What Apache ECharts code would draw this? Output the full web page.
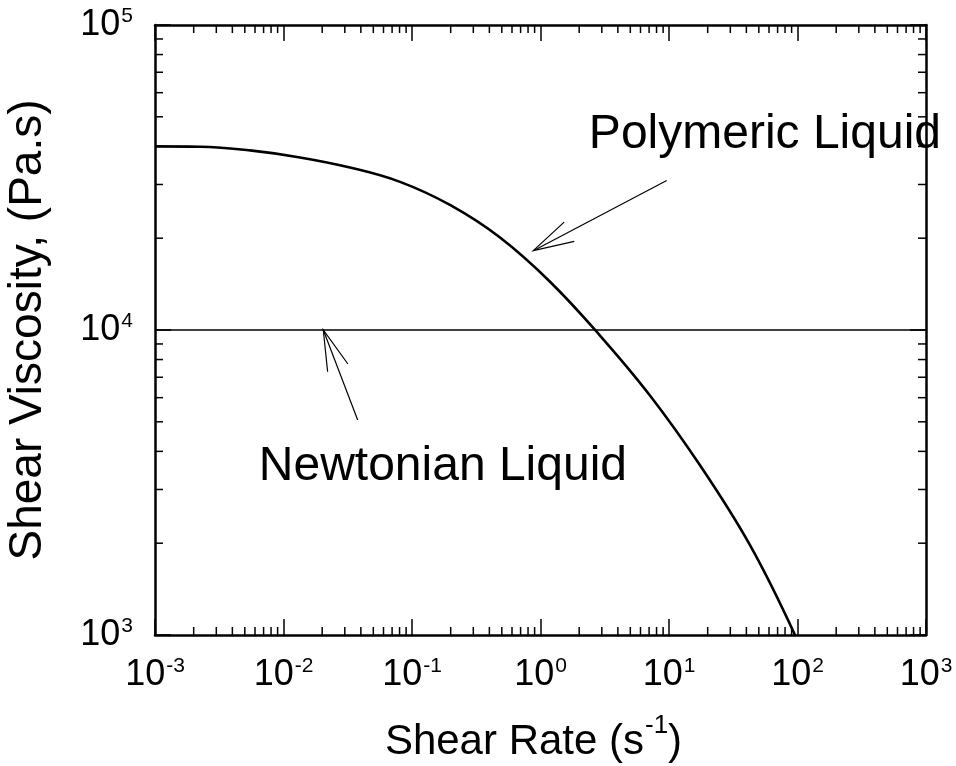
<!DOCTYPE html>
<html>
<head>
<meta charset="utf-8">
<script src="https://cdn.jsdelivr.net/npm/echarts@6/dist/echarts.min.js"></script>
<style>
html, body { margin: 0; padding: 0; background: #fff; }
#chart { width: 956px; height: 766px; }
</style>
</head>
<body>
<div id="chart"></div>
<script>
// polymeric liquid curve
var shearRate = [0.001, 0.00224, 0.00549, 0.01344, 0.0329, 0.0807, 0.1975, 0.484, 1.186, 2.904, 7.11, 17.43, 42.7, 95.6];
var viscosity = [40000, 39900, 38800, 36800, 34100, 30600, 25700, 20100, 14400, 9590, 6100, 3600, 1970, 1000];

// newtonian liquid: constant viscosity
var newtonRate = [0.001, 1000];
var newtonVisc = [10000, 10000];

// annotations (data coords)
var noteText = ['Polymeric Liquid', 'Newtonian Liquid'];
var notePos = [[55.8, 43800], [0.174, 3550]];
var arrowTail = [[9.6, 30900], [0.0378, 5070]];
var arrowTip = [[0.879, 18200], [0.0204, 10000]];

// log axis decades
var xDecades = [0.001, 0.01, 0.1, 1, 10, 100];
var yDecades = [1000, 10000];
var minorFactors = [2, 3, 4, 5, 6, 7, 8, 9];

var FONT = '"Liberation Sans", Arial, Helvetica, sans-serif';

var xMinor = [], yMinor = [];
xDecades.forEach(function (d) { minorFactors.forEach(function (f) { xMinor.push([d * f, 1000]); }); });
yDecades.forEach(function (d) { minorFactors.forEach(function (f) { yMinor.push([0.001, d * f]); }); });

function pow10Label(v) {
  var e = Math.round(Math.log(v) / Math.LN10);
  return '{b|10}{sup|' + e + '}';
}

var labelRich = {
  b: { fontSize: 36, fontFamily: FONT, color: '#000', lineHeight: 38 },
  sup: { fontSize: 21, fontFamily: FONT, color: '#000', verticalAlign: 'top', lineHeight: 22, padding: [0, 0, 0, 1] }
};

var axisBase = {
  type: 'log',
  logBase: 10,
  interval: 1,
  axisLine: { show: true, onZero: false, lineStyle: { color: '#000', width: 2.5 } },
  axisTick: { show: true, inside: true, length: 16, lineStyle: { color: '#000', width: 1.5 } },
  splitLine: { show: false },
  minorTick: { show: false },
  minorSplitLine: { show: false }
};

function axis(extra) {
  var o = JSON.parse(JSON.stringify(axisBase));
  for (var k in extra) o[k] = extra[k];
  return o;
}

var chart = echarts.init(document.getElementById('chart'));

chart.setOption({
  animation: false,
  backgroundColor: '#fff',
  grid: { left: 155, right: 30, top: 25, bottom: 131, outerBoundsMode: 'none', containLabel: false },
  xAxis: [
    axis({
      position: 'bottom', min: 0.001, max: 1000,
      name: '{t|Shear Rate (s}{sup|-1}{t|)}',
      nameLocation: 'middle', nameGap: 78,
      nameTextStyle: {
        fontSize: 42, fontFamily: FONT, color: '#000', padding: [0, 14, 0, 0],
        rich: {
          t: { fontSize: 42, fontFamily: FONT, color: '#000', lineHeight: 58 },
          sup: { fontSize: 26, fontFamily: FONT, color: '#000', verticalAlign: 'top', lineHeight: 26, padding: [0, 0, 0, 1] }
        }
      },
      axisLabel: {
        show: true, margin: 21, fontSize: 36, fontFamily: FONT, color: '#000',
        formatter: pow10Label, rich: labelRich
      }
    }),
    axis({ position: 'top', min: 0.001, max: 1000, axisLabel: { show: false } })
  ],
  yAxis: [
    axis({
      position: 'left', min: 1000, max: 100000,
      name: 'Shear Viscosity, (Pa.s)',
      nameLocation: 'middle', nameGap: 104,
      nameTextStyle: { fontSize: 46, fontFamily: FONT, color: '#000' },
      axisLabel: {
        show: true, margin: 22, fontSize: 36, fontFamily: FONT, color: '#000',
        formatter: pow10Label, rich: labelRich
      }
    }),
    axis({ position: 'right', min: 1000, max: 100000, axisLabel: { show: false } })
  ],
  series: [
    {
      name: 'Newtonian Liquid',
      type: 'line',
      showSymbol: false,
      data: newtonRate.map(function (x, i) { return [x, newtonVisc[i]]; }),
      lineStyle: { color: '#000', width: 1.5 }
    },
    {
      name: 'Polymeric Liquid',
      type: 'line',
      showSymbol: false,
      smooth: 0.4,
      clip: true,
      data: shearRate.map(function (x, i) { return [x, viscosity[i]]; }),
      lineStyle: { color: '#000', width: 2.6 }
    },
    {
      // minor ticks on bottom and top axes
      type: 'custom',
      silent: true,
      data: xMinor,
      renderItem: function (params, api) {
        var p = api.coord([api.value(0), api.value(1)]);
        var cs = params.coordSys;
        var st = { stroke: '#000', lineWidth: 1.5 };
        return {
          type: 'group',
          children: [
            { type: 'line', shape: { x1: p[0], y1: cs.y + cs.height, x2: p[0], y2: cs.y + cs.height - 8 }, style: st },
            { type: 'line', shape: { x1: p[0], y1: cs.y, x2: p[0], y2: cs.y + 8 }, style: st }
          ]
        };
      }
    },
    {
      // minor ticks on left and right axes
      type: 'custom',
      silent: true,
      data: yMinor,
      renderItem: function (params, api) {
        var p = api.coord([api.value(0), api.value(1)]);
        var cs = params.coordSys;
        var st = { stroke: '#000', lineWidth: 1.5 };
        return {
          type: 'group',
          children: [
            { type: 'line', shape: { x1: cs.x, y1: p[1], x2: cs.x + 8, y2: p[1] }, style: st },
            { type: 'line', shape: { x1: cs.x + cs.width, y1: p[1], x2: cs.x + cs.width - 8, y2: p[1] }, style: st }
          ]
        };
      }
    },
    {
      // arrows with open heads
      type: 'custom',
      silent: true,
      dimensions: ['x1', 'y1', 'x2', 'y2'],
      encode: { x: [0, 2], y: [1, 3] },
      data: arrowTail.map(function (t, i) { return [t[0], t[1], arrowTip[i][0], arrowTip[i][1]]; }),
      renderItem: function (params, api) {
        var a = api.coord([api.value(0), api.value(1)]);
        var b = api.coord([api.value(2), api.value(3)]);
        var ang = Math.atan2(a[1] - b[1], a[0] - b[0]);
        var L = 42, s = 15 * Math.PI / 180;
        var h1 = [b[0] + L * Math.cos(ang + s), b[1] + L * Math.sin(ang + s)];
        var h2 = [b[0] + L * Math.cos(ang - s), b[1] + L * Math.sin(ang - s)];
        var st = { stroke: '#000', lineWidth: 1.2, fill: null };
        return {
          type: 'group',
          children: [
            { type: 'line', shape: { x1: a[0], y1: a[1], x2: b[0], y2: b[1] }, style: st },
            { type: 'polyline', shape: { points: [h1, b, h2] }, style: st }
          ]
        };
      }
    },
    {
      // annotation labels
      type: 'custom',
      silent: true,
      clip: false,
      data: notePos.map(function (p, i) { return [p[0], p[1], i]; }),
      renderItem: function (params, api) {
        var p = api.coord([api.value(0), api.value(1)]);
        return {
          type: 'text',
          x: p[0], y: p[1],
          style: {
            text: noteText[api.value(2)],
            fill: '#000',
            fontSize: 48,
            fontFamily: FONT,
            align: 'center',
            verticalAlign: 'middle'
          }
        };
      }
    }
  ]
});
</script>
</body>
</html>
